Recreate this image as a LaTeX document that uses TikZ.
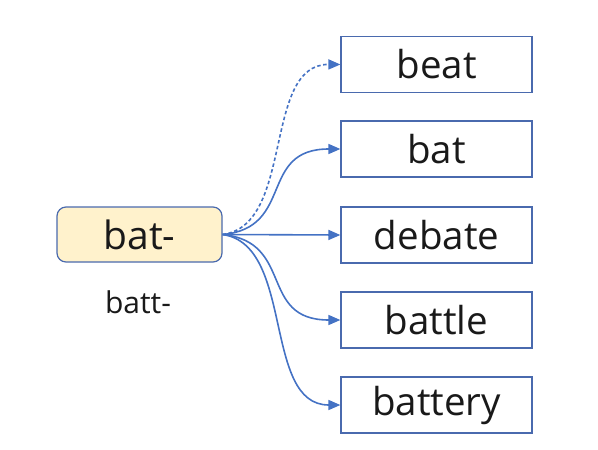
\documentclass[tikz,border=0pt]{standalone}
\usepackage{fontspec}
\setmainfont{Open Sans}
\usetikzlibrary{arrows.meta}
\definecolor{lineblue}{HTML}{4472C4}
\definecolor{boxblue}{HTML}{4A6AAE}
\definecolor{rootfill}{HTML}{FFF2CC}
\tikzset{
  wordbox/.style={draw=boxblue, line width=1.2pt, minimum width=191pt, minimum height=56pt, inner sep=0pt, font=\fontsize{38.5}{40}\selectfont, text=black!90},
  rootbox/.style={draw=boxblue, fill=rootfill, rounded corners=9pt, line width=1.2pt, minimum width=165pt, minimum height=55pt, inner sep=0pt, font=\fontsize{39}{40}\selectfont, text=black!90},
  link/.style={draw=lineblue, line width=1.6pt, -{Triangle[length=12pt,width=10pt]}},
}
\begin{document}
\begin{tikzpicture}[x=1pt,y=-1pt]
\useasboundingbox (0,0) rectangle (598,450);
\node[rootbox] (root) at (139.5,234.5) {bat-};
\node[font=\fontsize{30}{32}\selectfont, text=black!90] (alt) at (138,302) {batt-};
\node[wordbox] (w1) at (436.5,64.5) {beat};
\node[wordbox] (w2) at (436.5,149) {bat};
\node[wordbox] (w3) at (436.5,235) {debate};
\node[wordbox] (w4) at (436.5,320) {battle};
\node[wordbox] (w5) at (436.5,405) {battery};
\coordinate (o) at (root.east);
\draw[link, dashed, dash pattern=on 3.5pt off 2.5pt] (o) .. controls (295,225) and (262,64) .. (w1.west);
\draw[link] (o) .. controls (295,228) and (258,149) .. (w2.west);
\draw[link] (o) -- (w3.west);
\draw[link] (o) .. controls (295,242) and (258,320) .. (w4.west);
\draw[link] (o) .. controls (295,245) and (262,405) .. (w5.west);
\end{tikzpicture}
\end{document}
